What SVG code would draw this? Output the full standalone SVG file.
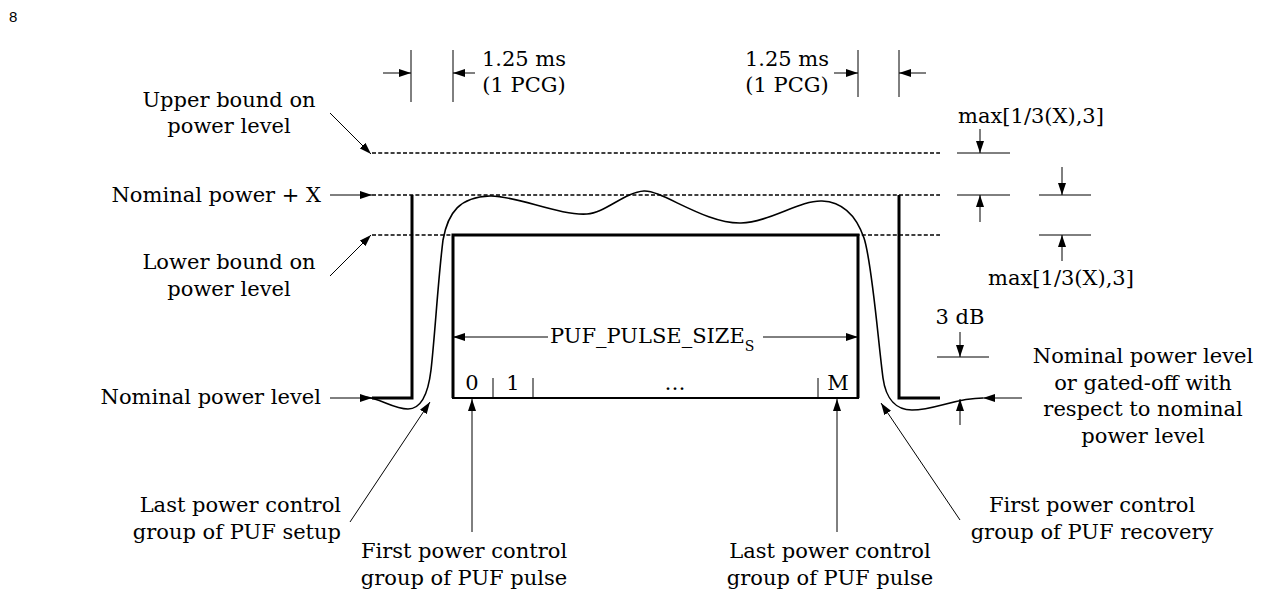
<svg xmlns="http://www.w3.org/2000/svg" width="1272" height="593" viewBox="0 0 1272 593">
<style>
text{font-family:"DejaVu Serif","Liberation Serif",serif;font-size:21px;fill:#000}
.pg{font-family:"Liberation Sans",Arial,sans-serif;font-size:15px}
.c{text-anchor:middle}
.e{text-anchor:end}
.thin{stroke:#000;stroke-width:1;fill:none}
.thick{stroke:#000;stroke-width:3;fill:none}
.dash{stroke:#000;stroke-width:1.4;stroke-dasharray:4 2.2;fill:none}
.sig{stroke:#000;stroke-width:1.6;fill:none}
.arr{stroke:#000;stroke-width:1;fill:none;marker-end:url(#ah)}
</style>
<defs>
<marker id="ah" markerWidth="12" markerHeight="8" refX="12" refY="4" orient="auto" markerUnits="userSpaceOnUse">
<path d="M0,0 L12,4 L0,8 z" fill="#000"/>
</marker>
</defs>
<rect width="1272" height="593" fill="#fff"/>
<text class="pg" x="9" y="22">8</text>

<g id="levels">
<path class="dash" d="M372,153 H940 M372,195 H940 M372,235 H940"/>
</g>

<g id="mask">
<path class="thick" d="M372,398 H412 V195"/>
<path class="thick" d="M899,195 V398 H940"/>
</g>

<g id="pulse">
<path class="thick" d="M453,398 V235 H858 V398"/>
<path stroke="#000" stroke-width="2" fill="none" d="M452,398 H859"/>
<path class="thin" d="M493,378 V398 M533,378 V398 M818,378 V398"/>
<text class="c" x="472" y="390">0</text>
<text class="c" x="513" y="390">1</text>
<text class="c" x="675" y="390">…</text>
<text class="c" x="838" y="390">M</text>
<text x="550" y="343">PUF_PULSE_SIZE<tspan font-size="14" dy="8">S</tspan></text>
</g>

<g id="signal">
<path class="sig" d="M365,397 C380,398 393,409 408,409 C420,409 428,395 431,370 C435,335 438,280 443,240 C448,212 460,197 490,196 C515,195 560,216 587,214 C605,213 625,192 644,191 C662,190 705,224 741,223 C770,222 800,200 822,201 C845,202 857,218 864,238 C872,262 878,340 883,378 C886,400 897,410 912,410 C935,410 955,398 983,398"/>
</g>

<g id="connectors">
<path class="thin" d="M411,50 V102 M453,50 V102 M858,50 V97 M899,50 V97"/>
<path class="arr" d="M383,73 H411"/>
<path class="arr" d="M475,73 H453"/>
<path class="arr" d="M834,73 H858"/>
<path class="arr" d="M926,73 H899"/>
<path class="arr" d="M548,337 H453"/>
<path class="arr" d="M763,337 H858"/>
<path class="arr" d="M330,113 L371,154"/>
<path class="arr" d="M330,195 H372"/>
<path class="arr" d="M330,276 L371,235"/>
<path class="arr" d="M330,398 H372"/>
<path class="arr" d="M350,522 L430,402"/>
<path class="arr" d="M472,532 V399"/>
<path class="arr" d="M837,532 V399"/>
<path class="arr" d="M960,520 L881,403"/>
<path class="thin" d="M957,153 H1010 M957,195 H1010 M1039,195 H1091 M1039,235 H1091 M937,357 H989"/>
<path class="arr" d="M980,129 V153"/>
<path class="arr" d="M980,222 V195"/>
<path class="arr" d="M1062,167 V195"/>
<path class="arr" d="M1062,261 V235"/>
<path class="arr" d="M960,332 V357"/>
<path class="arr" d="M960,425 V399"/>
<path class="arr" d="M1022,398 H983"/>
</g>

<g id="lbl-pcg-left"><text class="c" x="524" y="66">1.25 ms</text><text class="c" x="524" y="92">(1 PCG)</text></g>
<g id="lbl-pcg-right"><text class="c" x="787" y="66">1.25 ms</text><text class="c" x="787" y="92">(1 PCG)</text></g>
<g id="lbl-upper"><text class="c" x="229" y="107">Upper bound on</text><text class="c" x="229" y="133">power level</text></g>
<g id="lbl-nomx"><text class="e" x="321" y="202">Nominal power + X</text></g>
<g id="lbl-lower"><text class="c" x="229" y="269">Lower bound on</text><text class="c" x="229" y="296">power level</text></g>
<g id="lbl-nom"><text class="e" x="321" y="404">Nominal power level</text></g>
<g id="lbl-max1"><text class="c" x="1031" y="123">max[1/3(X),3]</text></g>
<g id="lbl-max2"><text class="c" x="1061" y="285">max[1/3(X),3]</text></g>
<g id="lbl-3db"><text class="c" x="960" y="324">3 dB</text></g>
<g id="lbl-gated"><text class="c" x="1143" y="363">Nominal power level</text><text class="c" x="1143" y="390">or gated-off with</text><text class="c" x="1143" y="416">respect to nominal</text><text class="c" x="1143" y="443">power level</text></g>
<g id="lbl-setup"><text class="e" x="341" y="512">Last power control</text><text class="e" x="341" y="539">group of PUF setup</text></g>
<g id="lbl-first-pulse"><text class="c" x="464" y="558">First power control</text><text class="c" x="464" y="585">group of PUF pulse</text></g>
<g id="lbl-last-pulse"><text class="c" x="830" y="558">Last power control</text><text class="c" x="830" y="585">group of PUF pulse</text></g>
<g id="lbl-recovery"><text class="c" x="1092" y="512">First power control</text><text class="c" x="1092" y="539">group of PUF recovery</text></g>
</svg>
